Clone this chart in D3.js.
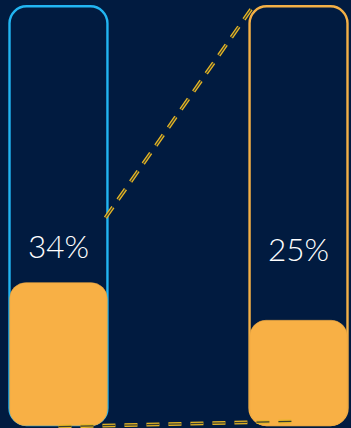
<!DOCTYPE html>
<html>
<head>
<meta charset="utf-8">
<script src="https://cdn.jsdelivr.net/npm/d3@7"></script>
<style>
  html, body { margin: 0; padding: 0; background: #011b40; }
  svg { display: block; }
</style>
</head>
<body>
<svg id="chart" width="351" height="428"></svg>
<script>
// Two share gauges: outline tube, filled part, percentage label
const categories = ["left", "right"];
const values = [34, 25];
const labels = ["34%", "25%"];
const outlineColors = ["#22b5f2", "#f4b046"];
const fillColor = "#f8b045";

// Connector guides, expressed in gauge percentages
const connectorFrom = [49.5, -0.4];
const connectorTo = [99.3, 0.9];

const W = 351, H = 428;
const svg = d3.select("#chart");
svg.append("rect").attr("width", W).attr("height", H).attr("fill", "#011b40");

const x = d3.scaleBand().domain(categories).range([9.5, 347.5]).paddingInner(0.592).paddingOuter(0);
const y = d3.scaleLinear().domain([0, 100]).range([425, 6.3]);
const bw = x.bandwidth();

const g = svg.append("g");

// tube outlines
g.selectAll("rect.outline")
  .data(categories)
  .join("rect")
  .attr("class", "outline")
  .attr("x", d => x(d))
  .attr("y", y(100))
  .attr("width", bw)
  .attr("height", y(0) - y(100))
  .attr("rx", 17).attr("ry", 17)
  .attr("fill", "none")
  .attr("stroke", (d, i) => outlineColors[i])
  .attr("stroke-width", 2.4);

// filled portion
g.selectAll("rect.fill")
  .data(categories)
  .join("rect")
  .attr("class", "fill")
  .attr("x", d => x(d) + 0.2)
  .attr("y", (d, i) => y(values[i]))
  .attr("width", bw - 0.4)
  .attr("height", (d, i) => y(0) - y(values[i]) + 0.6)
  .attr("rx", 16).attr("ry", 16)
  .attr("fill", fillColor)
  .attr("stroke", "#e9a43f")
  .attr("stroke-width", 0.6);

// labels
g.selectAll("text.pct")
  .data(categories)
  .join("text")
  .attr("class", "pct")
  .attr("x", d => x(d) + bw / 2)
  .attr("y", (d, i) => i === 0 ? 258 : 261)
  .attr("text-anchor", "middle")
  .attr("font-family", "Lato, 'Open Sans', sans-serif")
  .attr("font-weight", 300)
  .attr("font-size", 31.5)
  .attr("fill", "#ffffff")
  .text((d, i) => labels[i]);

// dashed double-line connectors
const a = categories[0], b = categories[1];
const connectors = [
  { x1: x(a) + bw - 2, y1: y(connectorFrom[0]), x2: x(b) + 1.5, y2: y(connectorTo[0]) },
  { x1: x(a) + bw / 2, y1: y(connectorFrom[1]), x2: x(b) + bw / 2, y2: y(connectorTo[1]) }
];
const line = d3.line();
const cg = svg.append("g");
connectors.forEach(c => {
  const p = line([[c.x1, c.y1], [c.x2, c.y2]]);
  cg.append("path").attr("d", p)
    .attr("fill", "none").attr("stroke", "#e6b626")
    .attr("stroke-width", 3.8).attr("stroke-dasharray", "13 9");
  cg.append("path").attr("d", p)
    .attr("fill", "none").attr("stroke", "#3a3f2e")
    .attr("stroke-width", 1.2).attr("stroke-dasharray", "13 9");
});
</script>
</body>
</html>
